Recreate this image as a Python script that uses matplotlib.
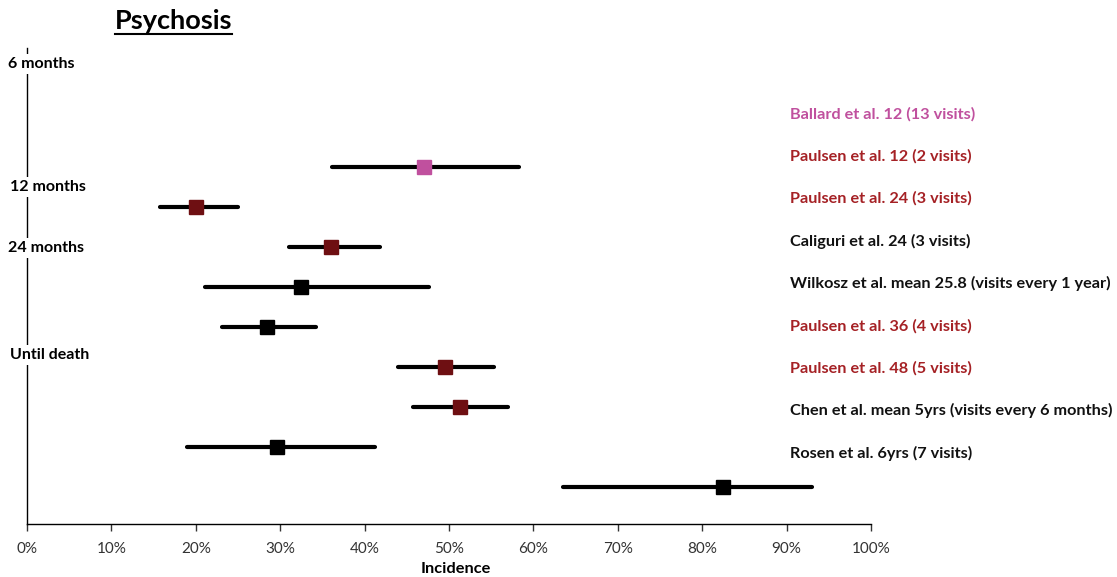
import matplotlib.pyplot as plt
from matplotlib.ticker import PercentFormatter

plt.rcParams['font.family'] = ['Lato', 'DejaVu Sans']

# data
studies = ['Ballard et al. 12 (13 visits)', 'Paulsen et al. 12 (2 visits)',
           'Paulsen et al. 24 (3 visits)', 'Caliguri et al. 24 (3 visits)',
           'Wilkosz et al. mean 25.8 (visits every 1 year)', 'Paulsen et al. 36 (4 visits)',
           'Paulsen et al. 48 (5 visits)', 'Chen et al. mean 5yrs (visits every 6 months)',
           'Rosen et al. 6yrs (7 visits)']
label_colors = ['#C0509E', '#A52125', '#A52125', '#111111', '#111111',
                '#A52125', '#A52125', '#111111', '#111111']
incidence = [47.0, 20.0, 36.0, 32.5, 28.4, 49.5, 51.3, 29.6, 82.5]
lower = [36.1, 15.8, 31.0, 21.1, 23.1, 43.9, 45.7, 19.0, 63.5]
upper = [58.3, 25.0, 41.8, 47.6, 34.2, 55.3, 57.0, 41.2, 93.0]
marker_colors = ['#C0509E', '#6E0F12', '#6E0F12', '#000000', '#000000',
                 '#6E0F12', '#6E0F12', '#000000', '#000000']
periods = ['6 months', '12 months', '24 months', 'Until death']
period_pos = [64, 187, 248, 355]   # pixel rows in the figure
period_x = [8, 10, 8, 10]

W, H = 1117, 577
fig = plt.figure(figsize=(W / 100, H / 100), dpi=100, facecolor='white')
ax = fig.add_axes([27 / W, 1 - 524 / H, (871 - 27) / W, (524 - 48) / H])

rows = list(range(len(studies)))
ax.hlines(rows, lower, upper, color='black', lw=3, capstyle='round', zorder=2)
for r, v, c in zip(rows, incidence, marker_colors):
    ax.plot(v, r, marker='s', ms=9.5, color=c, mec=c, ls='none', zorder=3)

ax.set_xlim(0, 100)
ax.set_ylim(8.93, -2.98)
ax.set_xticks(range(0, 101, 10))
ax.xaxis.set_major_formatter(PercentFormatter(decimals=0))
ax.tick_params(axis='x', direction='out', length=5, width=1, labelsize=11,
               colors='#333333', pad=8)
ax.tick_params(axis='y', left=False, labelleft=False)
for s in ['top', 'right']:
    ax.spines[s].set_visible(False)
ax.spines['left'].set_linewidth(1)
ax.spines['bottom'].set_linewidth(1)
ax.set_xlabel('Incidence', fontsize=11.8, fontweight='bold', labelpad=4, x=0.508)

# study labels on the right
for i, (txt, c) in enumerate(zip(studies, label_colors)):
    y = 114 + i * 42.4
    fig.text(790 / W, 1 - y / H, txt, color=c, fontsize=11.7, fontweight='bold',
             ha='left', va='center')

# period labels on the left, covering the axis line
for txt, y, x in zip(periods, period_pos, period_x):
    fig.text(x / W, 1 - y / H, txt, fontsize=11.5, fontweight='bold', ha='left', va='center',
             bbox=dict(facecolor='white', edgecolor='none', pad=2), zorder=5)

fig.text(115 / W, 1 - 21 / H, 'Psychosis', fontsize=19.5, fontweight='bold',
         ha='left', va='center')
fig.add_artist(plt.Line2D([115 / W, 232 / W], [1 - 34 / H, 1 - 34 / H], color='black', lw=1.5))

fig.savefig('out.png', dpi=100, facecolor='white')
